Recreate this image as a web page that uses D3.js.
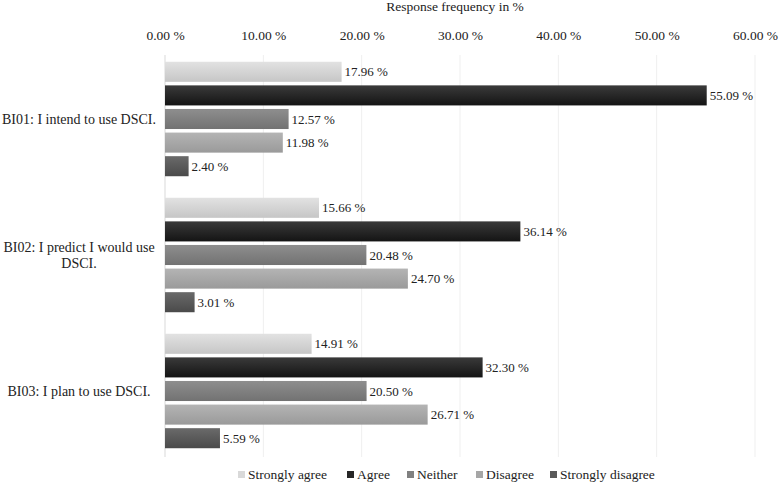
<!DOCTYPE html>
<html><head><meta charset="utf-8">
<script src="https://cdn.jsdelivr.net/npm/d3@7"></script>
<style>body{margin:0;background:#fff}svg text{font-family:"Liberation Serif","Times New Roman",Times,"DejaVu Serif",serif !important}</style>
</head><body><svg id="c" width="779" height="490"></svg>
<script>
const categories = [["BI01: I intend to use DSCI."],["BI02: I predict I would use","DSCI."],["BI03: I plan to use DSCI."]];
const series = ["Strongly agree","Agree","Neither","Disagree","Strongly disagree"];
const stronglyAgree = [17.96, 15.66, 14.91];
const agree = [55.09, 36.14, 32.30];
const neither = [12.57, 20.48, 20.50];
const disagree = [11.98, 24.70, 26.71];
const stronglyDisagree = [2.40, 3.01, 5.59];
const tickValues = [0,10,20,30,40,50,60];
const values = [stronglyAgree, agree, neither, disagree, stronglyDisagree];
const colors = [["#e2e2e2","#c6c6c6"],["#3a3a3a","#141414"],["#8e8e8e","#727272"],["#b4b4b4","#9a9a9a"],["#6a6a6a","#4a4a4a"]];
const legendColors = ["#d9d9d9","#262626","#808080","#a6a6a6","#595959"];

const svg = d3.select("#c");
const defs = svg.append("defs");
colors.forEach((c,i)=>{
  const g = defs.append("linearGradient").attr("id","g"+i).attr("x1",0).attr("y1",0).attr("x2",0).attr("y2",1);
  g.append("stop").attr("offset","0%").attr("stop-color",c[0]);
  g.append("stop").attr("offset","100%").attr("stop-color",c[1]);
});

const x = d3.scaleLinear().domain([0,60]).range([165,755]);
const y = d3.scaleBand().domain(d3.range(3)).range([51,459]);
const yi = d3.scaleBand().domain(d3.range(5)).range([9, y.bandwidth()-9]).paddingInner(0.15).paddingOuter(0.075);

svg.append("g").selectAll("line").data(tickValues).join("line")
  .attr("x1",d=>x(d)).attr("x2",d=>x(d)).attr("y1",55).attr("y2",457)
  .attr("stroke",d=>d===0?"#d9d9d9":"#efefef").attr("stroke-width",1);

const ax = svg.append("g").attr("transform","translate(0,43)")
  .call(d3.axisTop(x).tickValues(tickValues).tickSize(0).tickFormat(d=>d.toFixed(2)+" %"));
ax.select(".domain").remove();
ax.selectAll("text").attr("font-size",13.5).attr("fill","#222");

svg.append("text").attr("x",455).attr("y",11).attr("text-anchor","middle").attr("font-size",13.5).attr("fill","#222").text("Response frequency in %");

categories.forEach((cat,ci)=>{
  const g = svg.append("g").attr("transform",`translate(0,${y(ci)})`);
  series.forEach((s,si)=>{
    const v = values[si][ci];
    g.append("rect").attr("x",x(0)).attr("y",yi(si)).attr("width",x(v)-x(0)).attr("height",yi.bandwidth()).attr("fill",`url(#g${si})`);
    g.append("text").attr("x",x(v)+3).attr("y",yi(si)+yi.bandwidth()/2+4.5).attr("font-size",13).attr("fill","#222").text(v.toFixed(2)+" %");
  });
  const t = svg.append("text").attr("x",79).attr("text-anchor","middle").attr("font-size",14).attr("fill","#222");
  cat.forEach((l,li)=>{
    t.append("tspan").attr("x",79).attr("y",y(ci)+y.bandwidth()/2+5 + (li-(cat.length-1)/2)*16).text(l);
  });
});

const legendPos = [238,347,407,476,550];
const lg = svg.append("g").attr("transform","translate(0,479)");
series.forEach((s,si)=>{
  const item = lg.append("g").attr("transform",`translate(${legendPos[si]},0)`);
  item.append("rect").attr("x",0).attr("y",-8).attr("width",7).attr("height",7).attr("fill",legendColors[si]);
  item.append("text").attr("x",10).attr("y",0).attr("font-size",13.5).attr("fill","#222").text(s);
});
</script></body></html>
